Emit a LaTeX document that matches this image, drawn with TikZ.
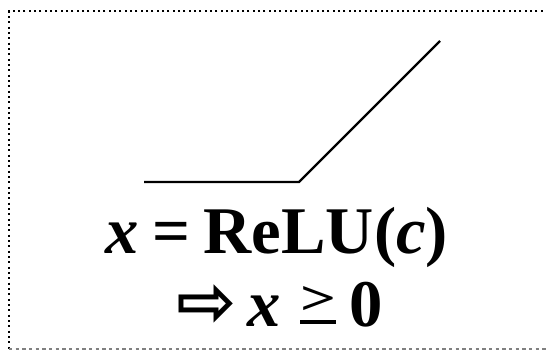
\documentclass[tikz,border=0pt]{standalone}
\usepackage{fontspec}
\setmainfont{Liberation Serif}
\newfontfamily\arrowfont{DejaVu Sans}
\newcommand{\geqsym}{\mbox{\ooalign{\raisebox{8.5pt}{\resizebox{27pt}{21pt}{>}}\cr\rule[1.5pt]{27pt}{3.2pt}}}}
\begin{document}
\begin{tikzpicture}[x=0.75pt,y=-0.75pt,
  dotframe/.style={line width=1.5pt,dash pattern=on 1.5pt off 2.5pt},
  dashframe/.style={line width=0.8pt,gray,dash pattern=on 2.5pt off 2.5pt},
  curve/.style={line width=1.6pt,black},
  formula/.style={inner sep=0pt,anchor=base,font=\fontsize{50}{58}\selectfont\bfseries}]
\useasboundingbox (0,0) rectangle (546,350);
\coordinate (tl) at (9,11);
\coordinate (tr) at (548,11);
\coordinate (bl) at (9,349);
\coordinate (br) at (548,349);
\draw[dotframe] (tr) -- (tl) -- (bl);
\draw[dashframe] (bl) -- (br);
\coordinate (a) at (144,182);
\coordinate (k) at (299,182);
\coordinate (b) at (440,41);
\draw[curve] (a) -- (k) -- (b);
\node[formula] (l1) at (277,253) {\textit{x}\hspace{0.2em}=\hspace{0.2em}ReLU(\textit{c})};
\node[formula] (l2) at (280,326) {{\arrowfont\fontsize{54}{54}\selectfont ⇨}\hspace{0.15em}\textit{x}\hspace{0.3em}\geqsym\hspace{0.2em}0};
\end{tikzpicture}
\end{document}
